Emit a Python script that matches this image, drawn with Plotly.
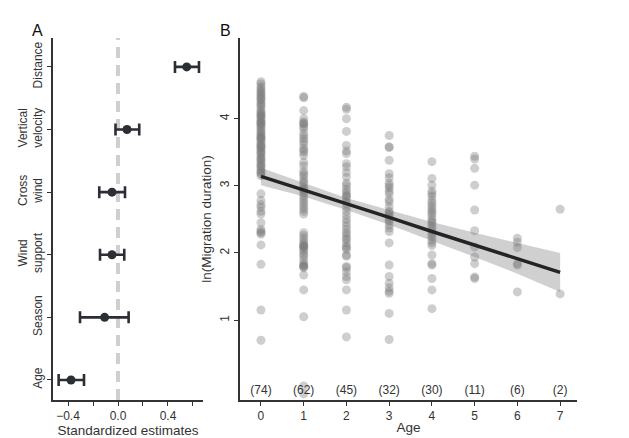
import plotly.graph_objects as go

# ---------------- Panel A data ----------------
predictors = ["Age", "Season", "Wind<br>support", "Cross<br>wind", "Vertical<br>velocity", "Distance"]
estimates = [-0.376, -0.107, -0.048, -0.048, 0.072, 0.55]
ci_low_a = [-0.475, -0.304, -0.144, -0.150, -0.020, 0.456]
ci_high_a = [-0.272, 0.085, 0.050, 0.056, 0.170, 0.648]
xticks_a = [-0.4, -0.2, 0.0, 0.2, 0.4, 0.6]
xticklabels_a = ["−0.4", "", "0.0", "", "0.4", ""]

# ---------------- Panel B data ----------------
age0 = [4.55, 4.52, 4.48, 4.45, 4.42, 4.40, 4.37, 4.35, 4.32, 4.28, 4.25, 4.22, 4.20, 4.17, 4.13,
        4.10, 4.08, 4.05, 4.02, 4.00, 3.97, 3.95, 3.93, 3.90, 3.88, 3.85, 3.82, 3.80, 3.77, 3.75,
        3.72, 3.70, 3.68, 3.65, 3.62, 3.60, 3.58, 3.55, 3.52, 3.50, 3.48, 3.45, 3.42, 3.40, 3.38,
        3.35, 3.32, 3.30, 3.28, 3.25, 3.22, 3.20, 3.18, 3.15, 3.93, 3.72, 3.57, 4.05, 4.30,
        2.88, 2.78, 2.72, 2.68, 2.62, 2.58, 2.45, 2.35, 2.32, 2.30, 2.28, 2.12, 1.83, 1.15, 0.70]
age1 = [4.33, 4.31, 4.12, 4.00, 3.95, 3.93, 3.88, 3.85, 3.78, 3.74, 3.70, 3.66, 3.62, 3.56, 3.53,
        3.50, 3.45, 3.35, 3.30, 3.22, 3.18, 3.15, 3.10, 3.06, 3.03, 2.98, 2.94, 2.90, 2.86, 2.82,
        2.78, 2.74, 2.70, 2.66, 2.62, 2.58, 2.30, 2.26, 2.22, 2.18, 2.14, 2.12, 2.10, 2.08, 2.05,
        2.02, 1.98, 1.95, 1.90, 1.85, 1.82, 1.80, 1.78, 1.67, 1.45, 1.05, 0.02, -0.10,
        3.92, 2.95, 2.10, 1.80]
age2 = [4.17, 4.14, 4.00, 3.81, 3.60, 3.52, 3.48, 3.33, 3.28, 3.20, 3.13, 3.04, 3.00, 2.95, 2.91,
        2.87, 2.83, 2.78, 2.74, 2.68, 2.62, 2.56, 2.50, 2.45, 2.40, 2.35, 2.30, 2.27, 2.22, 2.20,
        2.15, 2.10, 2.08, 2.05, 1.97, 1.95, 1.80, 1.78, 1.72, 1.65, 1.60, 1.45, 1.15, 0.75, 2.85]
age3 = [3.75, 3.58, 3.57, 3.38, 3.18, 3.12, 3.04, 3.00, 2.97, 2.92, 2.88, 2.80, 2.76, 2.69, 2.62,
        2.60, 2.57, 2.54, 2.50, 2.47, 2.42, 2.37, 2.32, 2.15, 1.82, 1.65, 1.55, 1.48, 1.43, 1.40,
        1.10, 0.71]
age4 = [3.36, 3.11, 3.01, 2.92, 2.88, 2.84, 2.78, 2.74, 2.70, 2.66, 2.62, 2.59, 2.55, 2.50, 2.47,
        2.44, 2.40, 2.36, 2.32, 2.28, 2.24, 2.19, 2.15, 2.11, 1.97, 1.84, 1.82, 1.62, 1.45, 1.17]
age5 = [3.44, 3.40, 3.26, 3.01, 2.64, 2.33, 2.09, 1.94, 1.84, 1.64, 1.62]
age6 = [2.22, 2.16, 2.08, 1.84, 1.82, 1.42]
age7 = [2.65, 1.39]
durations_by_age = [age0, age1, age2, age3, age4, age5, age6, age7]
ages = [0, 1, 2, 3, 4, 5, 6, 7]
counts = ["(74)", "(62)", "(45)", "(32)", "(30)", "(11)", "(6)", "(2)"]
fit_values = [3.14, 2.94, 2.73, 2.53, 2.32, 2.12, 1.92, 1.71]
fit_upper = [3.27, 3.04, 2.82, 2.64, 2.46, 2.30, 2.15, 2.00]
fit_lower = [3.01, 2.84, 2.64, 2.42, 2.18, 1.94, 1.69, 1.42]
yticks_b = [1, 2, 3, 4]

FONT = "Liberation Sans, Arial, sans-serif"
TXT = "#333333"
DARK = "#2b2e35"

fig = go.Figure()

# Panel A: zero reference line
fig.add_trace(go.Scatter(x=[0, 0], y=[-0.32, 5.46], mode="lines",
                         line=dict(color="#cfcfcf", width=4, dash="11px,7px"),
                         xaxis="x", yaxis="y", showlegend=False, hoverinfo="skip"))
# Panel A: estimates with CI
fig.add_trace(go.Scatter(
    x=estimates, y=list(range(len(predictors))), mode="markers",
    marker=dict(color=DARK, size=9),
    error_x=dict(type="data", symmetric=False,
                 array=[h - e for h, e in zip(ci_high_a, estimates)],
                 arrayminus=[e - l for l, e in zip(ci_low_a, estimates)],
                 color=DARK, thickness=2.6, width=6),
    xaxis="x", yaxis="y", showlegend=False))

# Panel B: confidence band
fig.add_trace(go.Scatter(x=ages + ages[::-1], y=fit_upper + fit_lower[::-1], fill="toself",
                         fillcolor="rgba(150,150,150,0.45)", line=dict(width=0),
                         mode="lines", xaxis="x2", yaxis="y2", showlegend=False, hoverinfo="skip"))
# Panel B: points
px_, py_ = [], []
for a, vals in zip(ages, durations_by_age):
    px_ += [a] * len(vals)
    py_ += vals
fig.add_trace(go.Scatter(x=px_, y=py_, mode="markers",
                         marker=dict(color="rgba(120,120,120,0.36)", size=9, line=dict(width=0)),
                         xaxis="x2", yaxis="y2", showlegend=False))
# Panel B: regression line
fig.add_trace(go.Scatter(x=ages, y=fit_values, mode="lines",
                         line=dict(color="#222428", width=3.5),
                         xaxis="x2", yaxis="y2", showlegend=False))
# Panel B: counts
fig.add_trace(go.Scatter(x=ages, y=[-0.05] * len(ages), mode="text", text=counts,
                         textfont=dict(family=FONT, size=12, color=TXT),
                         xaxis="x2", yaxis="y2", showlegend=False, hoverinfo="skip"))

axis_common = dict(showline=True, linecolor="#333333", linewidth=1.5, ticks="outside",
                   ticklen=4, tickcolor="#333333", tickwidth=1, showgrid=False, zeroline=False,
                   automargin=False,
                   tickfont=dict(family=FONT, size=12, color=TXT))

fig.update_layout(
    width=629, height=438, margin=dict(l=0, r=0, t=0, b=0),
    plot_bgcolor="white", paper_bgcolor="white",
    font=dict(family=FONT, color=TXT),
    xaxis=dict(domain=[0.0843, 0.3227], range=[-0.52, 0.68], tickvals=xticks_a,
               ticktext=xticklabels_a, anchor="y",
               title=dict(text="Standardized estimates", font=dict(size=13.5, color=TXT), standoff=0),
               **axis_common),
    yaxis=dict(domain=[0.0868, 0.913], range=[-0.32, 5.46], tickvals=list(range(len(predictors))),
               ticktext=predictors, tickangle=-90, anchor="x", **axis_common),
    xaxis2=dict(domain=[0.3816, 0.917], range=[-0.49, 7.39], tickvals=ages, anchor="y2",
                title=dict(text="Age", font=dict(size=13.5, color=TXT), standoff=0),
                **axis_common),
    yaxis2=dict(domain=[0.0868, 0.913], range=[-0.19, 5.2], tickvals=yticks_b,
                tickangle=-90, anchor="x2",
                title=dict(text="ln(Migration duration)", font=dict(size=13.5, color=TXT), standoff=4),
                **axis_common),
    annotations=[
        dict(text="A", x=37 / 629, y=1 - 30 / 438, xref="paper", yref="paper", showarrow=False,
             xanchor="center", yanchor="middle",
             font=dict(family=FONT, size=16, color="#111111")),
        dict(text="B", x=225 / 629, y=1 - 30 / 438, xref="paper", yref="paper", showarrow=False,
             xanchor="center", yanchor="middle",
             font=dict(family=FONT, size=16, color="#111111")),
    ],
)

fig.write_html("out.html", config={"displayModeBar": False},
               post_script="document.body.style.margin='0';")
